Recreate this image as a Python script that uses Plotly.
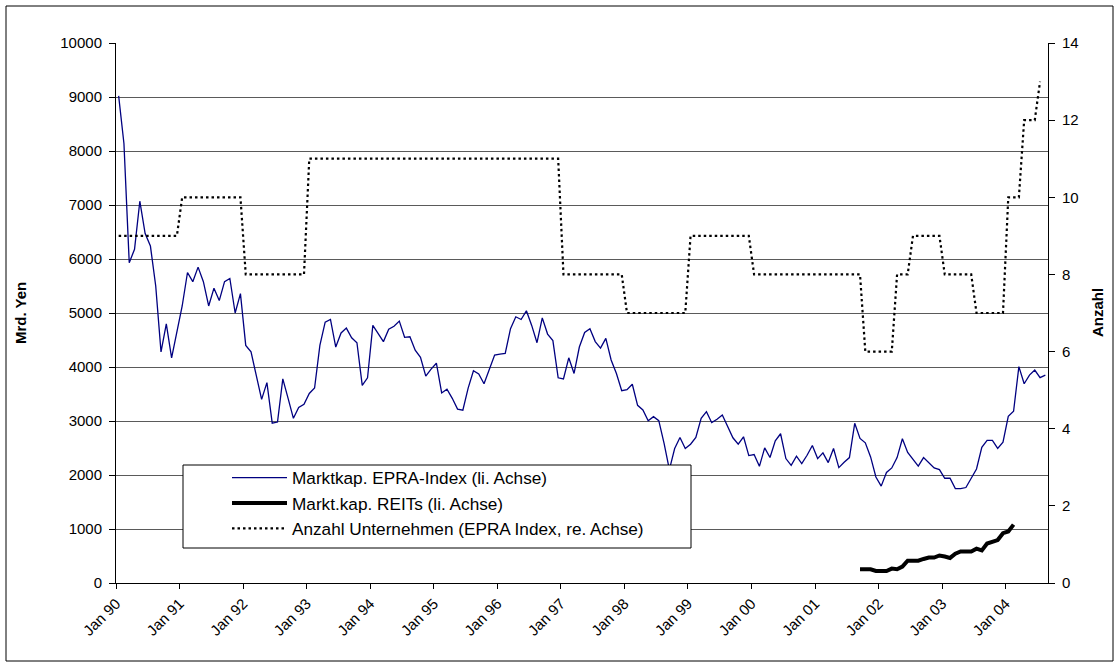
import plotly.graph_objects as go

# ---------------- data ----------------
# month index 0 = Jan 1990 ... 175 = Aug 2004
months = list(range(176))

epra_marktkap = [
    9020, 8140, 5930, 6180, 7070, 6470, 6240, 5500, 4280, 4800, 4170, 4650,   # 1990
    5130, 5750, 5580, 5850, 5580, 5130, 5460, 5230, 5580, 5640, 5000, 5360,   # 1991
    4400, 4280, 3850, 3400, 3710, 2960, 2980, 3780, 3420, 3050, 3250, 3310,   # 1992
    3510, 3610, 4400, 4830, 4880, 4370, 4630, 4720, 4540, 4450, 3660, 3800,   # 1993
    4770, 4620, 4470, 4700, 4755, 4850, 4550, 4560, 4310, 4180, 3830, 3960,   # 1994
    4070, 3520, 3590, 3420, 3220, 3200, 3610, 3930, 3870, 3690, 3960, 4220,   # 1995
    4240, 4250, 4710, 4930, 4880, 5040, 4770, 4450, 4910, 4610, 4490, 3800,   # 1996
    3780, 4170, 3880, 4370, 4640, 4710, 4470, 4350, 4530, 4130, 3880, 3560,   # 1997
    3580, 3680, 3290, 3205, 3006, 3081, 3006, 2584, 2100, 2491, 2696, 2491,   # 1998
    2571, 2696, 3050, 3174, 2969, 3031, 3112, 2894, 2689, 2571, 2708, 2360,   # 1999
    2379, 2161, 2503, 2323, 2634, 2764, 2304, 2180, 2348, 2211, 2366, 2547,   # 2000
    2304, 2410, 2230, 2491, 2137, 2236, 2323, 2957, 2677, 2596, 2335, 1963,   # 2001
    1794, 2048, 2131, 2322, 2672, 2417, 2290, 2163, 2322, 2226, 2131, 2099,   # 2002
    1940, 1940, 1749, 1749, 1768, 1940, 2112, 2513, 2640, 2640, 2494, 2608,   # 2003
    3085, 3181, 4008, 3690, 3849, 3944, 3804, 3849,                           # 2004
]

# REITs: Sep 2001 (month 140) .. Feb 2004 (month 169)
reit_months = list(range(140, 170))
reit_marktkap = [
    254, 254, 254, 223,                                                       # 2001
    223, 223, 267, 254, 305, 413, 413, 413, 445, 470, 470, 509,               # 2002
    490, 464, 541, 585, 585, 585, 636, 604, 731, 763, 795, 922,               # 2003
    954, 1081,                                                                # 2004
]

# Number of companies in EPRA index: Jan 1990 .. Jul 2004
anzahl_months = list(range(175))
anzahl = [
    9, 9, 9, 9, 9, 9, 9, 9, 9, 9, 9, 9,             # 1990
    10, 10, 10, 10, 10, 10, 10, 10, 10, 10, 10, 10, # 1991
    8, 8, 8, 8, 8, 8, 8, 8, 8, 8, 8, 8,             # 1992
    11, 11, 11, 11, 11, 11, 11, 11, 11, 11, 11, 11, # 1993
    11, 11, 11, 11, 11, 11, 11, 11, 11, 11, 11, 11, # 1994
    11, 11, 11, 11, 11, 11, 11, 11, 11, 11, 11, 11, # 1995
    11, 11, 11, 11, 11, 11, 11, 11, 11, 11, 11, 11, # 1996
    8, 8, 8, 8, 8, 8, 8, 8, 8, 8, 8, 8,             # 1997
    7, 7, 7, 7, 7, 7, 7, 7, 7, 7, 7, 7,             # 1998
    9, 9, 9, 9, 9, 9, 9, 9, 9, 9, 9, 9,             # 1999
    8, 8, 8, 8, 8, 8, 8, 8, 8, 8, 8, 8,             # 2000
    8, 8, 8, 8, 8, 8, 8, 8, 8, 6, 6, 6,             # 2001
    6, 6, 6, 8, 8, 8, 9, 9, 9, 9, 9, 9,             # 2002
    8, 8, 8, 8, 8, 8, 7, 7, 7, 7, 7, 7,             # 2003
    10, 10, 10, 12, 12, 12, 13,                     # 2004
]

tick_positions = [12 * k - 0.5 for k in range(15)]
tick_labels = ["Jan 90", "Jan 91", "Jan 92", "Jan 93", "Jan 94", "Jan 95", "Jan 96",
               "Jan 97", "Jan 98", "Jan 99", "Jan 00", "Jan 01", "Jan 02", "Jan 03", "Jan 04"]

# ---------------- layout helpers ----------------
W, H = 1119, 670
ML, MR, MT, MB = 116, 71, 43, 87
PW, PH = W - ML - MR, H - MT - MB


def px_x(x):
    return (x - ML) / PW


def px_y(y):
    return (H - MB - y) / PH


FONT = "Liberation Sans, Arial, sans-serif"

fig = go.Figure()
fig.add_trace(go.Scatter(
    x=months, y=epra_marktkap, mode="lines",
    name="Marktkap. EPRA-Index (li. Achse)",
    line=dict(color="#000080", width=1.3), legendgroup="a"))
fig.add_trace(go.Scatter(
    x=reit_months, y=reit_marktkap, mode="lines",
    name="Markt.kap. REITs (li. Achse)",
    line=dict(color="black", width=4), legendgroup="b"))
fig.add_trace(go.Scatter(
    x=anzahl_months, y=anzahl, mode="lines", yaxis="y2",
    name="Anzahl Unternehmen (EPRA Index, re. Achse)",
    line=dict(color="black", width=2.2, dash="2.5px,3px"), legendgroup="c"))

fig.update_layout(
    width=W, height=H,
    margin=dict(l=ML, r=MR, t=MT, b=MB, pad=0),
    paper_bgcolor="white", plot_bgcolor="white",
    font=dict(family=FONT, size=15, color="black"),
    showlegend=True,
    legend=dict(x=px_x(227), y=px_y(460), xanchor="left", yanchor="top",
                bgcolor="rgba(0,0,0,0)", borderwidth=0,
                font=dict(family=FONT, size=17.2, color="black"),
                itemwidth=55, tracegroupgap=8, traceorder="normal"),
    xaxis=dict(range=[-0.5, 175.5], tickmode="array", tickvals=tick_positions,
               ticktext=tick_labels, tickangle=-45, ticks="outside", ticklen=5,
               tickcolor="black", showline=True, linecolor="black", linewidth=1,
               showgrid=False, zeroline=False,
               tickfont=dict(family=FONT, size=15)),
    yaxis=dict(range=[0, 10000], dtick=1000, tick0=0, tickformat="d",
               ticks="outside", ticklen=6, ticklabelstandoff=4,
               tickcolor="black", showline=True, linecolor="black", linewidth=1,
               showgrid=True, gridcolor="#5a5a5a", gridwidth=1, zeroline=False,
               tickfont=dict(family=FONT, size=15)),
    yaxis2=dict(range=[0, 14], dtick=2, tick0=0, overlaying="y", side="right",
                ticks="outside", ticklen=6, ticklabelstandoff=4,
                tickcolor="black", showline=True,
                linecolor="black", linewidth=1, showgrid=False, zeroline=False,
                tickfont=dict(family=FONT, size=15)),
    shapes=[
        dict(type="rect", xref="paper", yref="paper",
             x0=px_x(6), x1=px_x(1113), y0=px_y(661), y1=px_y(6),
             line=dict(color="black", width=1), fillcolor="rgba(0,0,0,0)", layer="below"),
        dict(type="rect", xref="paper", yref="paper",
             x0=px_x(183), x1=px_x(691), y0=px_y(548), y1=px_y(465),
             line=dict(color="black", width=1), fillcolor="white", layer="above"),
    ],
    annotations=[
        dict(text="<b>Mrd. Yen</b>", xref="paper", yref="paper",
             x=px_x(20), y=px_y(313), textangle=-90, showarrow=False,
             font=dict(family=FONT, size=15), xanchor="center", yanchor="middle"),
        dict(text="<b>Anzahl</b>", xref="paper", yref="paper",
             x=px_x(1097), y=px_y(313), textangle=-90, showarrow=False,
             font=dict(family=FONT, size=15), xanchor="center", yanchor="middle"),
    ],
)

fig.write_html("out.html", config={"displayModeBar": False},
               post_script="document.body.style.margin='0px';document.body.style.overflow='hidden';")
